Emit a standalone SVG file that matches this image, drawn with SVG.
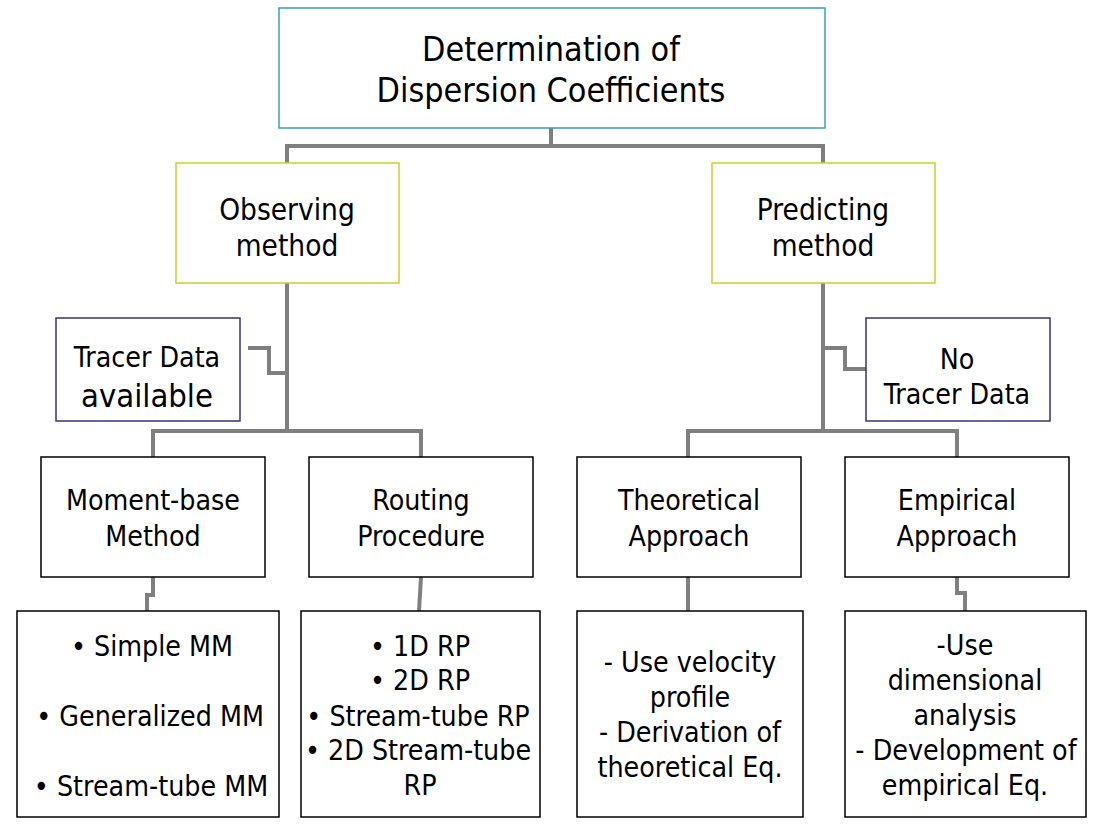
<svg xmlns="http://www.w3.org/2000/svg" width="1102" height="827" viewBox="0 0 1102 827">
<style>
text{font-family:"DejaVu Sans Condensed","DejaVu Sans",sans-serif;font-stretch:condensed;fill:#000;text-anchor:middle}
.box{fill:#fff;stroke:#000;stroke-width:1.5}
.conn{fill:none;stroke:#7f7f7f;stroke-width:4}
.t33{font-size:33.8px}
.t28{font-size:29.5px}
.t26{font-size:28.3px}
</style>
<rect width="1102" height="827" fill="#fff"/>
<g id="connectors" class="conn">
<path d="M551,128 V146 M287,163 V146 H823 V163"/>
<path d="M287,283 V431 M153,457 V431 H421 V457"/>
<path d="M248,348 H269 V373 H287"/>
<path d="M823,283 V431 M688,457 V431 H957 V457"/>
<path d="M823,348 H845 V369 H866"/>
<path d="M153,577 V595 H147 V611"/>
<path d="M421,577 L419,611"/>
<path d="M688,577 V611"/>
<path d="M957,577 V593 H965 V611"/>
</g>
<g id="root">
<rect x="279" y="8" width="546" height="120" fill="#fff" stroke="#3d9fb0" stroke-width="1.5"/>
<text class="t33" x="551" y="61">Determination of</text>
<text class="t33" x="551" y="102">Dispersion Coefficients</text>
</g>
<g id="observing">
<rect x="176" y="163" width="223" height="120" fill="#fff" stroke="#c8d12a" stroke-width="1.5"/>
<text class="t28" x="287" y="220">Observing</text>
<text class="t28" x="287" y="256">method</text>
</g>
<g id="predicting">
<rect x="712" y="163" width="223" height="120" fill="#fff" stroke="#c8d12a" stroke-width="1.5"/>
<text class="t28" x="823" y="220">Predicting</text>
<text class="t28" x="823" y="256">method</text>
</g>
<g id="tracer-available">
<rect x="56" y="318" width="184" height="103" fill="#fff" stroke="#35356e" stroke-width="1.5"/>
<text class="t26" x="147" y="367">Tracer Data</text>
<text font-size="32.5" x="147" y="407">available</text>
</g>
<g id="no-tracer">
<rect x="866" y="318" width="184" height="103" fill="#fff" stroke="#35356e" stroke-width="1.5"/>
<text class="t26" x="957" y="369">No</text>
<text class="t26" x="957" y="404">Tracer Data</text>
</g>
<g id="moment">
<rect class="box" x="41" y="457" width="224" height="120"/>
<text class="t26" x="153" y="510">Moment-base</text>
<text class="t26" x="153" y="546">Method</text>
</g>
<g id="routing">
<rect class="box" x="309" y="457" width="224" height="120"/>
<text class="t26" x="421" y="510">Routing</text>
<text class="t26" x="421" y="546">Procedure</text>
</g>
<g id="theoretical">
<rect class="box" x="577" y="457" width="224" height="120"/>
<text class="t26" x="689" y="510">Theoretical</text>
<text class="t26" x="689" y="546">Approach</text>
</g>
<g id="empirical">
<rect class="box" x="845" y="457" width="224" height="120"/>
<text class="t26" x="957" y="510">Empirical</text>
<text class="t26" x="957" y="546">Approach</text>
</g>
<g id="mm-list">
<rect class="box" x="17" y="611" width="262" height="206"/>
<text class="t26" x="152" y="656">• Simple MM</text>
<text class="t26" x="150" y="726">• Generalized MM</text>
<text class="t26" x="151" y="796">• Stream-tube MM</text>
</g>
<g id="rp-list">
<rect class="box" x="301" y="611" width="239" height="206"/>
<text class="t26" x="420" y="656">• 1D RP</text>
<text class="t26" x="420" y="690">• 2D RP</text>
<text class="t26" x="418" y="726">• Stream-tube RP</text>
<text class="t26" x="418" y="760">• 2D Stream-tube</text>
<text class="t26" x="420" y="795">RP</text>
</g>
<g id="theory-list">
<rect class="box" x="577" y="611" width="226" height="206"/>
<text class="t26" x="690" y="672">- Use velocity</text>
<text class="t26" x="690" y="707">profile</text>
<text class="t26" x="690" y="742">- Derivation of</text>
<text class="t26" x="690" y="777">theoretical Eq.</text>
</g>
<g id="emp-list">
<rect class="box" x="845" y="611" width="241" height="206"/>
<text class="t26" x="965" y="655">-Use</text>
<text class="t26" x="965" y="690">dimensional</text>
<text class="t26" x="965" y="725">analysis</text>
<text class="t26" x="966" y="760">- Development of</text>
<text class="t26" x="965" y="795">empirical Eq.</text>
</g>
</svg>
